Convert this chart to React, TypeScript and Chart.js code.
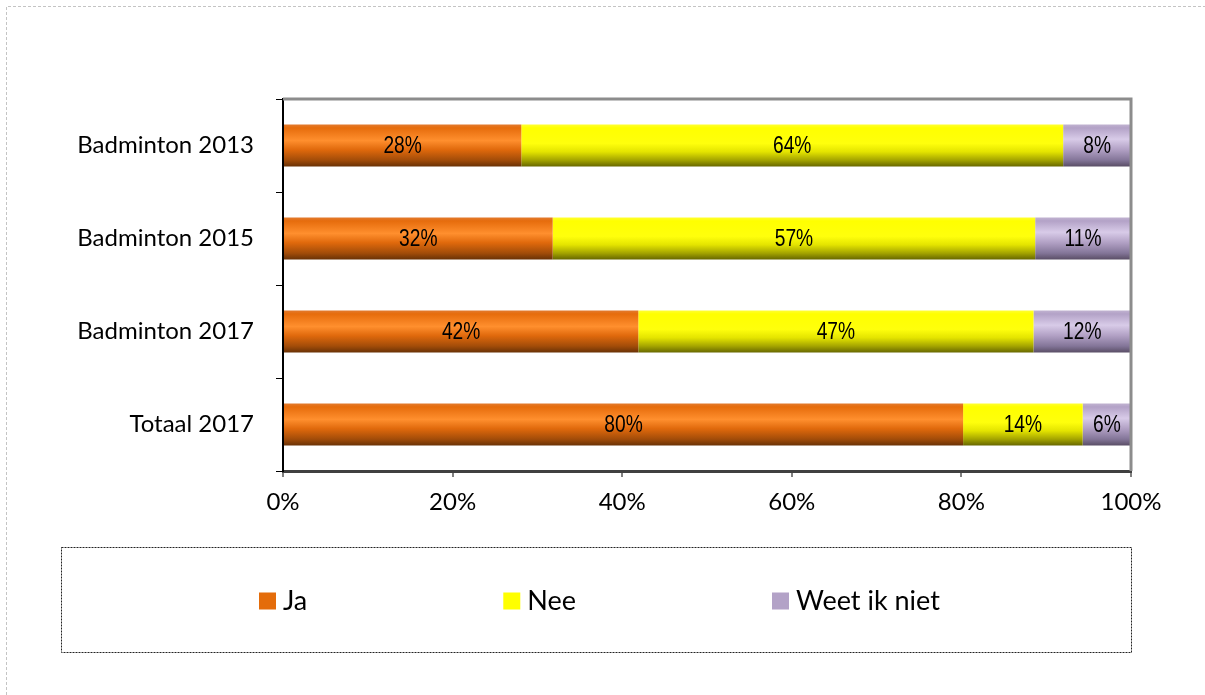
import React, { useEffect, useRef } from "react";
import { Chart, registerables } from "chart.js";

Chart.register(...registerables);

const categories = ["Badminton 2013", "Badminton 2015", "Badminton 2017", "Totaal 2017"];
const seriesNames = ["Ja", "Nee", "Weet ik niet"];
const jaValues = [28.1, 31.8, 41.9, 80.2];
const neeValues = [63.9, 56.9, 46.6, 14.1];
const weetValues = [8.0, 11.3, 11.5, 5.7];
const xTickValues = [0, 20, 40, 60, 80, 100];

const legendColors = ["#e46c0a", "#ffff00", "#b3a2c7"];

const gradientStops: [number, string][][] = [
  [
    [0, "#e27a2e"],
    [0.08, "#e66c0c"],
    [0.38, "#ff8f2e"],
    [0.6, "#e0690c"],
    [0.85, "#a24c09"],
    [1, "#6a3206"],
  ],
  [
    [0, "#ffff30"],
    [0.08, "#ffff00"],
    [0.45, "#ffff0c"],
    [0.65, "#e4e400"],
    [0.85, "#a4a400"],
    [1, "#686800"],
  ],
  [
    [0, "#c0b2d0"],
    [0.08, "#b3a2c7"],
    [0.35, "#d8cbe8"],
    [0.6, "#b1a0c4"],
    [0.85, "#837598"],
    [1, "#5a4e66"],
  ],
];

const BAR_PCT = 0.45;
const TICK_FONT = "Lato, 'Open Sans', sans-serif";
const LABEL_FONT = "'Liberation Sans', Arial, sans-serif";

function makeGradient(stops: [number, string][]) {
  return (ctx: any) => {
    const chart = ctx.chart;
    const y = chart.scales && chart.scales.y;
    if (!y || ctx.dataIndex === undefined) return stops[1][1];
    const center = y.getPixelForValue(ctx.dataIndex);
    const band = Math.abs(y.getPixelForValue(1) - y.getPixelForValue(0));
    const half = (band * BAR_PCT) / 2;
    if (!isFinite(center) || !isFinite(half) || half <= 0) return stops[1][1];
    const g = chart.ctx.createLinearGradient(0, center - half, 0, center + half);
    stops.forEach(([o, c]) => g.addColorStop(o, c));
    return g;
  };
}

const framePlugin = {
  id: "framePlugin",
  beforeDraw(chart: any) {
    const ctx = chart.ctx;
    ctx.save();
    ctx.fillStyle = "#ffffff";
    ctx.fillRect(0, 0, chart.width, chart.height);
    ctx.strokeStyle = "#c4c4c4";
    ctx.lineWidth = 1;
    ctx.setLineDash([3, 2]);
    ctx.beginPath();
    ctx.moveTo(6.5, chart.height);
    ctx.lineTo(6.5, 6.5);
    ctx.lineTo(chart.width, 6.5);
    ctx.stroke();
    ctx.restore();
  },
  afterDraw(chart: any) {
    const ctx = chart.ctx;
    const a = chart.chartArea;
    ctx.save();
    // plot area top/right border
    ctx.strokeStyle = "#8c8c8c";
    ctx.lineWidth = 3;
    ctx.beginPath();
    ctx.moveTo(a.left, a.top);
    ctx.lineTo(a.right, a.top);
    ctx.lineTo(a.right, a.bottom);
    ctx.stroke();

    // legend box
    ctx.strokeStyle = "#222222";
    ctx.lineWidth = 1;
    ctx.setLineDash([2, 1]);
    ctx.strokeRect(61.5, 547.5, 1070, 105);
    ctx.setLineDash([]);

    // legend items
    ctx.font = "27px " + TICK_FONT;
    ctx.textBaseline = "middle";
    ctx.textAlign = "left";
    let x = 259;
    const cy = 601;
    chart.data.datasets.forEach((ds: any, i: number) => {
      ctx.fillStyle = legendColors[i];
      ctx.fillRect(x, cy - 8.5, 17, 17);
      ctx.fillStyle = "#000000";
      ctx.fillText(ds.label, x + 24, cy);
      x += 24 + ctx.measureText(ds.label).width + 196;
    });
    ctx.restore();
  },
  afterDatasetsDraw(chart: any) {
    const ctx = chart.ctx;
    ctx.save();
    ctx.font = "24px " + LABEL_FONT;
    ctx.fillStyle = "#000000";
    ctx.textAlign = "center";
    ctx.textBaseline = "middle";
    chart.data.datasets.forEach((ds: any, di: number) => {
      const meta = chart.getDatasetMeta(di);
      meta.data.forEach((el: any, i: number) => {
        const v = ds.data[i];
        const cx = (el.x + el.base) / 2;
        ctx.save();
        ctx.translate(cx, el.y + 1);
        ctx.scale(0.8, 1);
        ctx.fillText(Math.round(v) + "%", 0, 0);
        ctx.restore();
      });
    });
    ctx.restore();
  },
};

export default function App() {
  const ref = useRef<HTMLCanvasElement | null>(null);
  useEffect(() => {
    if (!ref.current) return;
    const seriesData = [jaValues, neeValues, weetValues];
    const chart = new Chart(ref.current, {
      type: "bar",
      data: {
        labels: categories,
        datasets: seriesNames.map((name, i) => ({
          label: name,
          data: seriesData[i],
          backgroundColor: makeGradient(gradientStops[i]),
          borderWidth: 0,
          categoryPercentage: 1,
          barPercentage: BAR_PCT,
        })),
      },
      options: {
        indexAxis: "y",
        animation: false,
        responsive: false,
        devicePixelRatio: 1,
        layout: { padding: { top: 99, right: 74, left: 0, bottom: 0 } },
        plugins: {
          legend: { display: false },
          tooltip: { enabled: false },
        },
        scales: {
          x: {
            stacked: true,
            min: 0,
            max: 100,
            afterBuildTicks: (s: any) => {
              s.ticks = xTickValues.map((v) => ({ value: v }));
            },
            ticks: {
              callback: (v: any) => v + "%",
              font: { family: TICK_FONT, size: 24 },
              color: "#000000",
              padding: 11,
              maxRotation: 0,
              autoSkip: false,
            },
            grid: {
              drawOnChartArea: false,
              drawTicks: true,
              tickLength: 6,
              color: "#808080",
              lineWidth: 2,
            },
            border: { color: "#404040", width: 3 },
            afterFit: (s: any) => {
              s.height = 224;
            },
          },
          y: {
            stacked: true,
            ticks: {
              font: { family: TICK_FONT, size: 24 },
              color: "#000000",
              padding: 22,
            },
            grid: {
              drawOnChartArea: false,
              drawTicks: true,
              tickLength: 7,
              color: "#000000",
              lineWidth: 1,
              offset: true,
            },
            border: { color: "#000000", width: 2 },
            afterFit: (s: any) => {
              s.width = 283;
            },
          },
        },
      },
      plugins: [framePlugin],
    } as any);
    return () => chart.destroy();
  }, []);

  return (
    <div style={{ position: "fixed", left: 0, top: 0, width: 1205, height: 695, background: "#fff" }}>
      <canvas ref={ref} width={1205} height={695} style={{ display: "block", width: 1205, height: 695 }} />
    </div>
  );
}
